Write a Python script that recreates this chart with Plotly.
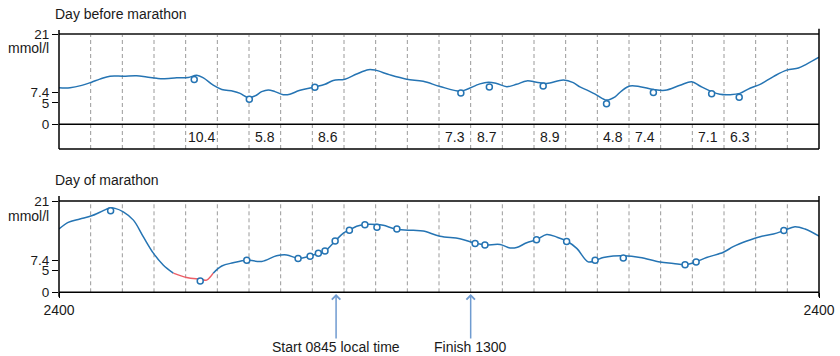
import plotly.graph_objects as go

# ---- Day before marathon: continuous glucose trace (hour of day, mmol/l) ----
before_hours = [0.0, 0.35, 0.72, 1.03, 1.29, 1.61, 2.03, 2.45, 2.77, 3.09, 3.29, 3.72, 4.08,
                4.35, 4.56, 4.87, 5.14, 5.50, 5.72, 5.98, 6.19, 6.40, 6.61, 6.82, 7.08, 7.29,
                7.56, 7.71, 8.08, 8.40, 8.66, 9.03, 9.40, 9.77, 9.98, 10.45, 10.98, 11.50,
                12.03, 12.66, 12.87, 13.29, 13.56, 13.82, 14.14, 14.45, 14.77, 15.08, 15.40,
                15.93, 16.24, 16.45, 16.66, 16.98, 17.29, 17.56, 17.77, 18.03, 18.35, 18.77,
                19.14, 19.61, 19.98, 20.24, 20.61, 20.87, 21.19, 21.50, 21.82, 22.14, 22.56,
                22.98, 23.35, 23.61, 24.0]
before_glucose = [8.5, 8.5, 9.05, 9.8, 10.5, 11.2, 11.2, 11.3, 11.0, 10.7, 10.6, 10.8, 10.9,
                  11.4, 10.8, 9.1, 8.1, 7.7, 7.2, 6.2, 6.6, 7.6, 8.0, 7.6, 6.9, 7.0,
                  7.8, 8.1, 8.7, 9.3, 10.2, 10.5, 11.7, 12.7, 12.6, 11.5, 10.5, 10.0,
                  8.8, 7.7, 8.1, 9.4, 9.8, 9.5, 8.75, 9.3, 10.1, 9.8, 9.5,
                  10.3, 9.7, 8.7, 8.0, 6.8, 5.65, 6.4, 7.8, 8.9, 8.75, 8.1,
                  7.9, 9.07, 9.9, 8.9, 7.6, 7.0, 6.9, 7.2, 8.4, 9.3, 11.1,
                  12.6, 13.1, 14.0, 15.6]

# Finger-prick readings on the day before (hour taken, value)
before_check_hours = [4.27, 6.01, 8.08, 12.69, 13.59, 15.29, 17.29, 18.77, 20.61, 21.48]
before_check_values = [10.4, 5.8, 8.6, 7.3, 8.7, 8.9, 4.8, 7.4, 7.1, 6.3]
# Hour column in which each reading is printed in the table row
before_check_columns = [4, 6, 8, 12, 13, 15, 17, 18, 20, 21]

# ---- Day of marathon ----
race_hours = [0.0, 0.29, 0.66, 1.03, 1.29, 1.61, 1.77, 2.03, 2.35, 2.66, 2.98, 3.29, 3.61,
              4.03, 4.45, 4.66, 4.87, 5.14, 5.50, 5.93, 6.40, 6.87, 7.19, 7.56, 7.93, 8.19,
              8.40, 8.72, 8.98, 9.17, 9.40, 9.66, 10.03, 10.24, 10.66, 11.19, 11.50, 12.03,
              12.66, 13.14, 13.45, 13.93, 14.24, 14.45, 14.77, 15.08, 15.40, 15.72, 16.03,
              16.35, 16.71, 16.93, 17.19, 17.50, 17.82, 18.35, 18.98, 19.40, 19.77, 20.12,
              20.45, 20.98, 21.29, 21.72, 22.14, 22.56, 22.89, 23.24, 23.56, 24.0]
race_glucose = [14.55, 16.1, 16.85, 17.6, 18.4, 19.4, 19.3, 18.5, 16.6, 12.8, 9.0, 6.3, 4.4,
                3.4, 3.0, 2.8, 4.4, 6.05, 6.8, 7.4, 7.1, 8.4, 8.6, 7.8, 8.35, 8.95,
                9.5, 11.8, 13.6, 14.3, 15.2, 15.6, 15.6, 15.4, 14.5, 14.25, 14.1, 12.9,
                12.3, 11.3, 10.9, 11.0, 10.2, 10.3, 11.4, 12.1, 13.3, 12.7, 11.8,
                10.1, 7.0, 7.3, 8.0, 8.35, 8.4, 8.0, 6.95, 6.65, 6.35, 7.0,
                8.0, 9.2, 10.5, 11.8, 12.8, 13.4, 14.2, 15.1, 14.55, 12.9]

race_check_hours = [1.63, 4.46, 5.93, 7.55, 7.93, 8.19, 8.40, 8.72, 9.17, 9.66, 10.04, 10.67,
                    13.14, 13.45, 15.08, 16.03, 16.93, 17.82, 19.77, 20.12, 22.89]
race_check_values = [18.75, 2.6, 7.35, 7.8, 8.3, 9.0, 9.5, 11.8, 14.3, 15.55, 14.95, 14.55,
                     11.2, 10.9, 12.1, 11.7, 7.35, 7.9, 6.35, 6.95, 14.2]

LOW_LIMIT = 4.5            # readings below this are drawn in red
START_HOUR = 8.75          # race start 08:45
FINISH_HOUR = 13.0         # finish 13:00

y_ticks = [0, 5, 7.4, 21]
x_edge_labels = ["2400", "2400"]

BLUE = "#2574b3"
RED = "#ec5f67"
ARROW = "#6f9bd0"
GRID = "#9a9a9a"
FAMILY = "Liberation Sans, Arial, Helvetica, sans-serif"
FONT = dict(family=FAMILY, size=14, color="#1a1a1a")
TICK_FONT = dict(family=FAMILY, size=13.5, color="#1a1a1a")

fig = go.Figure()

# Day before
fig.add_trace(go.Scatter(x=before_hours, y=before_glucose, mode="lines",
                         line=dict(color=BLUE, width=1.5, shape="spline", smoothing=1),
                         xaxis="x", yaxis="y", hoverinfo="skip"))
fig.add_trace(go.Scatter(x=before_check_hours, y=before_check_values, mode="markers",
                         marker=dict(symbol="circle", size=6, color="white",
                                     line=dict(color=BLUE, width=1.5)),
                         xaxis="x", yaxis="y", hoverinfo="skip"))

# Day of marathon: split the trace where it falls below the low limit
low_idx = [i for i, v in enumerate(race_glucose) if v <= LOW_LIMIT]
i0, i1 = low_idx[0], low_idx[-1]
segments = [
    (race_hours[:i0 + 1], race_glucose[:i0 + 1], BLUE),
    (race_hours[i0:i1 + 1], race_glucose[i0:i1 + 1], RED),
    (race_hours[i1:], race_glucose[i1:], BLUE),
]
for xs, ys, col in segments:
    fig.add_trace(go.Scatter(x=xs, y=ys, mode="lines",
                             line=dict(color=col, width=1.5, shape="spline", smoothing=1),
                             xaxis="x2", yaxis="y2", hoverinfo="skip"))
fig.add_trace(go.Scatter(x=race_check_hours, y=race_check_values, mode="markers",
                         marker=dict(symbol="circle", size=6, color="white",
                                     line=dict(color=BLUE, width=1.5)),
                         xaxis="x2", yaxis="y2", hoverinfo="skip"))

X_DOMAIN = [59 / 840, 819 / 840]
TOP_DOMAIN = [1 - 149 / 356, 1 - 34 / 356]
BOT_DOMAIN = [1 - 292.3 / 356, 1 - 201 / 356]
TOP_RANGE = [-5.74, 21]
BOT_RANGE = [0, 21]

yaxis_common = dict(tickvals=y_ticks, ticktext=[str(t) for t in y_ticks], ticks="outside",
                    ticklen=6, tickwidth=1.2, tickcolor="black", showgrid=False,
                    zeroline=False, showline=False, tickfont=TICK_FONT, fixedrange=True,
                    automargin=False)

fig.update_layout(
    width=840, height=356,
    margin=dict(l=0, r=0, t=0, b=0, autoexpand=False),
    paper_bgcolor="white", plot_bgcolor="white",
    showlegend=False,
    font=FONT,
    xaxis=dict(domain=X_DOMAIN, range=[0, 24], anchor="y", showgrid=False, zeroline=False,
               showline=False, showticklabels=False, ticks="", automargin=False),
    yaxis=dict(domain=TOP_DOMAIN, range=TOP_RANGE, anchor="x", **yaxis_common),
    xaxis2=dict(domain=X_DOMAIN, range=[0, 24], anchor="y2", showgrid=False, zeroline=False,
                showline=False, tickvals=[0, 24], ticktext=x_edge_labels, ticks="outside",
                ticklen=5, tickcolor="black", tickfont=FONT, automargin=False),
    yaxis2=dict(domain=BOT_DOMAIN, range=BOT_RANGE, anchor="x2", **yaxis_common),
)

shapes = []
# hourly dashed guides
for h in range(1, 24):
    shapes.append(dict(type="line", xref="x", yref="y domain", x0=h, x1=h, y0=0, y1=1,
                       line=dict(color=GRID, width=1, dash="4px,3px"), layer="below"))
    shapes.append(dict(type="line", xref="x2", yref="y2 domain", x0=h, x1=h, y0=0, y1=1,
                       line=dict(color=GRID, width=1, dash="4px,3px"), layer="below"))

def frame_line(xr, yr, x0, x1, y0, y1, color="black", width=1.5):
    return dict(type="line", xref=xr, yref=yr, x0=x0, x1=x1, y0=y0, y1=y1,
                line=dict(color=color, width=width))

# top panel frame
shapes.append(frame_line("x domain", "y domain", 0, 1, 1, 1, color="#4a4a4a", width=2))
shapes.append(frame_line("x domain", "y", 0, 1, 0, 0))
shapes.append(frame_line("x domain", "y domain", 0, 1, 0, 0))
shapes.append(frame_line("x domain", "y domain", 0, 0, 0, 1.035))
shapes.append(frame_line("x domain", "y domain", 1, 1, 0, 1.045))
# bottom panel frame
shapes.append(frame_line("x2 domain", "y2 domain", 0, 1, 1, 1))
shapes.append(frame_line("x2 domain", "y2 domain", 0, 1, 0, 0))
shapes.append(frame_line("x2 domain", "y2 domain", 0, 0, -0.05, 1.055))
shapes.append(frame_line("x2 domain", "y2 domain", 1, 1, -0.05, 1.055))
fig.update_layout(shapes=shapes)

annotations = [
    dict(text="Day before marathon", xref="paper", yref="paper", x=53 / 840, y=1 - 14 / 356,
         xanchor="left", yanchor="middle", showarrow=False, font=FONT),
    dict(text="Day of marathon", xref="paper", yref="paper", x=53 / 840, y=1 - 180 / 356,
         xanchor="left", yanchor="middle", showarrow=False, font=FONT),
    dict(text="mmol/l", xref="paper", yref="paper", x=51 / 840, y=1 - 48 / 356,
         xanchor="right", yanchor="middle", showarrow=False, font=FONT),
    dict(text="mmol/l", xref="paper", yref="paper", x=51 / 840, y=1 - 216 / 356,
         xanchor="right", yanchor="middle", showarrow=False, font=FONT),
]
# readings printed in the table row beneath the day-before trace
for col, val in zip(before_check_columns, before_check_values):
    annotations.append(dict(text=f"{val:.1f}", xref="x", yref="y", x=col + 0.5,
                            y=TOP_RANGE[0] / 2, xanchor="center", yanchor="middle",
                            showarrow=False, font=FONT))
# start / finish arrows pointing up at the time axis of the race day
ARROW_TIP = 1 - 294 / 356
for hour, label in [(START_HOUR, "Start 0845 local time"), (FINISH_HOUR, "Finish 1300")]:
    annotations.append(dict(text=label, xref="x2", yref="paper", x=hour, y=ARROW_TIP,
                            ax=0, ay=53, showarrow=True, arrowhead=4, arrowsize=1.1,
                            arrowwidth=1.5, arrowcolor=ARROW, font=FONT,
                            xanchor="center", yanchor="middle", borderpad=0))
fig.update_layout(annotations=annotations)

# page without the default body margin so the figure sits at the window origin
fig.write_html("out.html", post_script="document.body.style.margin='0';")
